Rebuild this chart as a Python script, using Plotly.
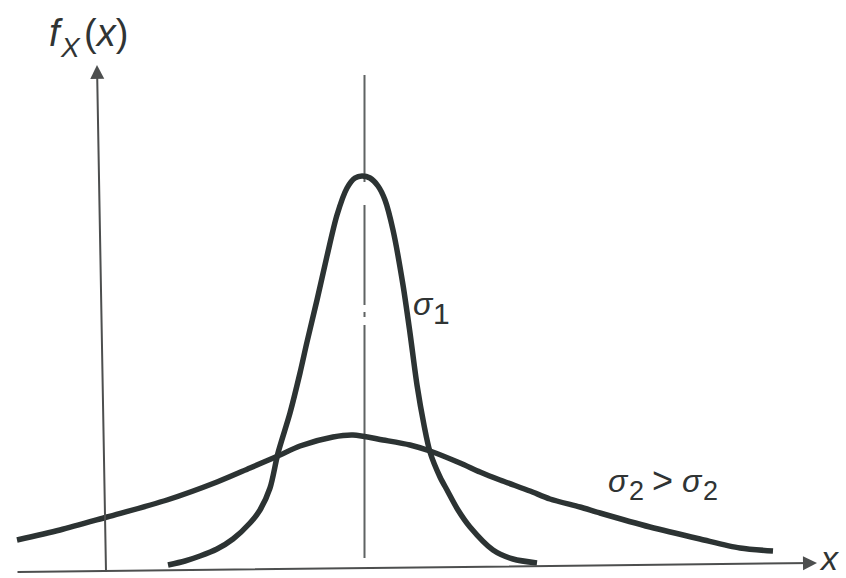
import plotly.graph_objects as go

# Density with the small spread (sigma_1)
x_narrow = [1.24, 1.58, 1.88, 2.22, 2.54, 2.88, 3.08, 3.28, 3.44, 3.68, 3.88, 4.02,
            4.22, 4.42, 4.62, 4.82, 4.98, 5.12, 5.28, 5.44, 5.58, 5.74, 5.94, 6.08,
            6.22, 6.36, 6.48, 6.68, 6.82, 7.04, 7.28, 7.74, 8.14, 8.62]
f_narrow = [0.007, 0.011, 0.016, 0.023, 0.033, 0.049, 0.062, 0.084, 0.119, 0.159,
            0.199, 0.230, 0.272, 0.316, 0.357, 0.384, 0.394, 0.396, 0.394, 0.386,
            0.372, 0.342, 0.287, 0.239, 0.187, 0.147, 0.120, 0.095, 0.082, 0.062,
            0.045, 0.022, 0.013, 0.009]

# Density with the large spread (sigma_2)
x_wide = [-1.78, -0.92, 0.02, 1.22, 2.22, 2.88, 3.44, 3.88, 4.54, 4.94, 5.54, 6.08,
          6.48, 7.08, 7.48, 7.88, 8.48, 8.88, 9.48, 9.88, 10.88, 11.88, 12.68, 13.34]
f_wide = [0.032, 0.042, 0.055, 0.072, 0.090, 0.104, 0.116, 0.126, 0.135, 0.137,
          0.132, 0.127, 0.121, 0.109, 0.100, 0.092, 0.081, 0.073, 0.065, 0.059,
          0.045, 0.033, 0.024, 0.021]

# Common mean of both densities
mu = 5.17
mean_line_f = [0.497, 0.014]

curve_color = "#2c3333"
axis_color = "#4d4f4f"
text_color = "#303434"
W, H = 846, 578

fig = go.Figure()

fig.add_trace(go.Scatter(
    x=[mu, mu], y=mean_line_f, mode="lines",
    line=dict(color="#5f6363", width=2,
              dash="107px,23px,100px,7px,5px,8px,240px,10px"),
    hoverinfo="skip", showlegend=False))

fig.add_trace(go.Scatter(
    x=x_wide, y=f_wide, mode="lines",
    line=dict(color=curve_color, width=5.5, shape="spline", smoothing=0.8),
    hoverinfo="skip", showlegend=False))

fig.add_trace(go.Scatter(
    x=x_narrow, y=f_narrow, mode="lines",
    line=dict(color=curve_color, width=5.5, shape="spline", smoothing=0.8),
    hoverinfo="skip", showlegend=False))


def px(x, y):
    """Pixel position on the page -> paper coordinates."""
    return x / W, 1 - y / H


annotations = []

# Axis arrows (tip position, tail offset in pixels)
for tip, tail in [((817, 563), (-801, 9)), ((97, 65), (9, 507))]:
    tx, ty = px(*tip)
    annotations.append(dict(
        xref="paper", yref="paper", x=tx, y=ty, axref="pixel", ayref="pixel",
        ax=tail[0], ay=tail[1], text="", showarrow=True, arrowhead=2,
        arrowsize=1.4, arrowwidth=2, arrowcolor=axis_color, standoff=0))


def label(text, x, y, size, italic=True, yanchor="middle"):
    lx, ly = px(x, y)
    annotations.append(dict(
        xref="paper", yref="paper", x=lx, y=ly, xanchor="center", yanchor=yanchor,
        text=f"<i>{text}</i>" if italic else text, showarrow=False, borderpad=0,
        font=dict(family="Liberation Sans, Arial, sans-serif", size=size,
                  color=text_color)))


# f_X(x) on the vertical axis
label("f", 56, 33, 38)
label("X", 70, 47, 28)
label("(<i>x</i>)", 106, 33, 38, italic=False)
label("x", 829, 578, 34, yanchor="bottom")

# sigma_1
label("σ", 424, 304, 32)
label("1", 441, 313, 30, italic=False)

# sigma_2 > sigma_2
label("σ", 618, 481, 32)
label("2", 636, 491, 27, italic=False)
label("&gt;", 662, 480, 36, italic=False)
label("σ", 692, 481, 32)
label("2", 710, 491, 27, italic=False)

fig.update_layout(
    width=W, height=H,
    margin=dict(l=0, r=0, t=0, b=0),
    paper_bgcolor="white", plot_bgcolor="white",
    xaxis=dict(range=[-2.12, 14.8], visible=False, fixedrange=True),
    yaxis=dict(range=[-0.006, 0.572], visible=False, fixedrange=True),
    annotations=annotations,
    showlegend=False,
)

fig.write_html("out.html")
